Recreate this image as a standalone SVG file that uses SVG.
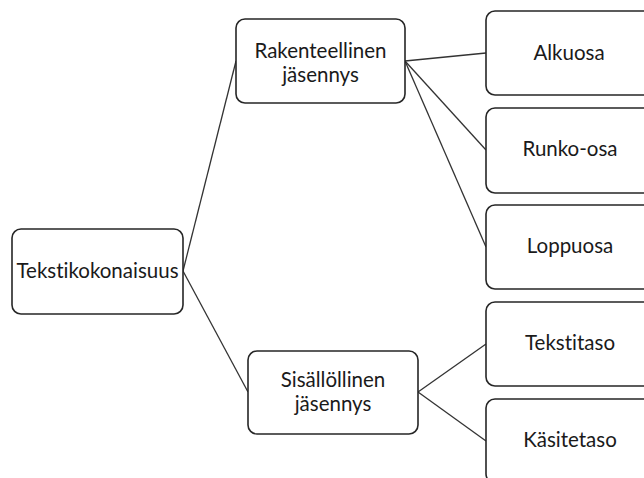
<svg xmlns="http://www.w3.org/2000/svg" width="644" height="478" viewBox="0 0 644 478">
<style>
.box{fill:#fff;stroke:#262626;stroke-width:1.6}
.t{font-family:Lato,"Open Sans",sans-serif;font-size:20.5px;fill:#1a1a1a;text-anchor:middle;font-variant-ligatures:none}
.c{stroke:#333;stroke-width:1.3;fill:none}
</style>
<rect width="644" height="478" fill="#fff"/>
<g id="connectors">
<line class="c" x1="183" y1="271" x2="236" y2="61"/>
<line class="c" x1="183" y1="271" x2="248" y2="392"/>
<line class="c" x1="405" y1="61" x2="486" y2="53"/>
<line class="c" x1="405" y1="61" x2="486" y2="150"/>
<line class="c" x1="405" y1="61" x2="486" y2="247"/>
<line class="c" x1="418" y1="392" x2="486" y2="344"/>
<line class="c" x1="418" y1="392" x2="486" y2="441"/>
</g>
<g id="tekstikokonaisuus"><rect class="box" x="12" y="229" width="171" height="85" rx="9"/><text class="t" x="97.5" y="278">Tekstikokonaisuus</text></g>
<g id="rakenteellinen"><rect class="box" x="236" y="19" width="169" height="84" rx="9"/><text class="t" x="320.5" y="58">Rakenteellinen</text><text class="t" x="320.5" y="82">jäsennys</text></g>
<g id="sisallollinen"><rect class="box" x="248" y="351" width="170" height="83" rx="9"/><text class="t" x="333" y="387">Sisällöllinen</text><text class="t" x="333" y="411">jäsennys</text></g>
<g id="alkuosa"><rect class="box" x="486" y="11" width="170" height="84" rx="9"/><text class="t" x="569" y="60">Alkuosa</text></g>
<g id="runko-osa"><rect class="box" x="486" y="108" width="170" height="85" rx="9"/><text class="t" x="570" y="156">Runko-osa</text></g>
<g id="loppuosa"><rect class="box" x="486" y="205" width="170" height="84" rx="9"/><text class="t" x="570" y="253">Loppuosa</text></g>
<g id="tekstitaso"><rect class="box" x="486" y="302" width="170" height="84" rx="9"/><text class="t" x="570" y="350">Tekstitaso</text></g>
<g id="kasitetaso"><rect class="box" x="486" y="399" width="170" height="84" rx="9"/><text class="t" x="570" y="447">Käsitetaso</text></g>
</svg>
